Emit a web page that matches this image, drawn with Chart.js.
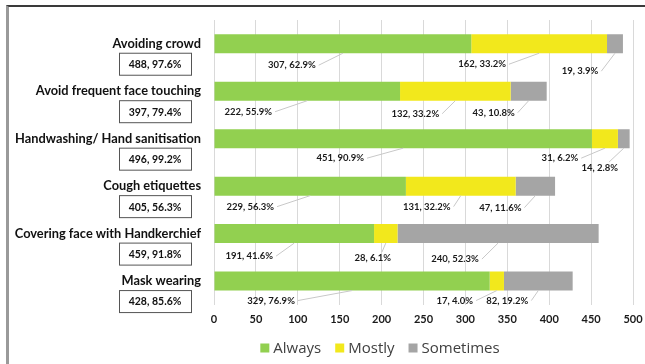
<!DOCTYPE html>
<html>
<head>
<meta charset="utf-8">
<script src="https://cdn.jsdelivr.net/npm/chart.js@4/dist/chart.umd.min.js"></script>
<style>
  html, body { margin: 0; padding: 0; background: #fff; }
  #wrap { position: relative; width: 645px; height: 364px; overflow: hidden; }
  #frame { position: absolute; left: 6px; top: 5px; width: 700px; height: 400px;
           border-top: 2px solid #3a3a3a; border-left: 3px solid #9a9a9a; }
  canvas { position: absolute; left: 0; top: 0; }
</style>
</head>
<body>
<div id="wrap">
  <div id="frame"></div>
  <canvas id="chart" width="645" height="364"></canvas>
</div>
<script>
// Preventive practices - stacked horizontal bars

const categories = [
  'Avoiding crowd',
  'Avoid frequent face touching',
  'Handwashing/ Hand sanitisation',
  'Cough etiquettes',
  'Covering face with Handkerchief',
  'Mask wearing'
];
const totals = ['488, 97.6%', '397, 79.4%', '496, 99.2%', '405, 56.3%', '459, 91.8%', '428, 85.6%'];

const always = [307, 222, 451, 229, 191, 329];
const mostly = [162, 132, 31, 131, 28, 17];
const sometimes = [19, 43, 14, 47, 240, 82];

const alwaysPct = ['62.9%', '55.9%', '90.9%', '56.3%', '41.6%', '76.9%'];
const mostlyPct = ['33.2%', '33.2%', '6.2%', '32.2%', '6.1%', '4.0%'];
const sometimesPct = ['3.9%', '10.8%', '2.8%', '11.6%', '52.3%', '19.2%'];

const xTicks = [0, 50, 100, 150, 200, 250, 300, 350, 400, 450, 500];

// label offsets (px) from the bottom centre of each segment: [dx, dy]
const labelOffsets = [
  [[-51, 12], [-57, 11], [-35, 18]],
  [[-59, 11], [-40, 13], [-35, 12]],
  [[-63, 10], [-45, 10], [-24, 20]],
  [[-60, 11], [-34, 11], [-35, 12]],
  [[-45, 13], [-13, 15], [-43, 16]],
  [[-81, 10], [-42, 10], [-31, 10]]
];

const colors = ['#92D050', '#F2E81C', '#A5A5A5'];
const labelFont = 'bold 9.5px Lato';

// Left side: category names and boxed totals
const sideLabels = {
  id: 'sideLabels',
  afterDraw(chart) {
    const ctx = chart.ctx;
    const yScale = chart.scales.y;
    ctx.save();
    categories.forEach((name, i) => {
      const y = yScale.getPixelForValue(i);
      ctx.fillStyle = '#111';
      ctx.font = 'bold 12.8px Lato';
      ctx.textAlign = 'right';
      ctx.textBaseline = 'middle';
      ctx.fillText(name, 201, y);

      const bx = 119, by = y + 9, bw = 72, bh = 22;
      ctx.strokeStyle = '#555';
      ctx.lineWidth = 1;
      ctx.strokeRect(bx + 0.5, by + 0.5, bw, bh);
      ctx.font = 'bold 10.5px Lato';
      ctx.textAlign = 'center';
      ctx.fillStyle = '#111';
      ctx.fillText(totals[i], bx + bw / 2, by + bh / 2 + 1);
    });
    ctx.restore();
  }
};

// Data labels with leader lines under each segment
const segLabels = {
  id: 'segLabels',
  afterDatasetsDraw(chart) {
    const ctx = chart.ctx;
    const pcts = [alwaysPct, mostlyPct, sometimesPct];
    ctx.save();
    ctx.font = labelFont;
    ctx.textBaseline = 'middle';
    ctx.textAlign = 'center';
    chart.data.datasets.forEach((ds, d) => {
      const meta = chart.getDatasetMeta(d);
      meta.data.forEach((bar, i) => {
        const p = bar.getProps(['x', 'y', 'base', 'height'], true);
        const cx = (p.x + p.base) / 2;
        const bottom = p.y + p.height / 2;
        const [dx, dy] = labelOffsets[i][d];
        const lx = cx + dx, ly = bottom + dy;
        const text = ds.data[i] + ', ' + pcts[d][i];
        const w = ctx.measureText(text).width;

        let sx = lx + w / 2 + 3, sy = ly;
        if (sx > cx - 4) { sx = lx + w / 4; sy = ly - 6; }
        ctx.strokeStyle = '#c8c8c8';
        ctx.lineWidth = 1;
        ctx.beginPath();
        ctx.moveTo(sx, sy);
        ctx.lineTo(cx, bottom);
        ctx.stroke();

        ctx.fillStyle = '#1a1a1a';
        ctx.fillText(text, lx, ly);
      });
    });
    ctx.restore();
  }
};

// Legend drawn under the axis
const bottomLegend = {
  id: 'bottomLegend',
  afterDraw(chart) {
    const ctx = chart.ctx;
    ctx.save();
    ctx.font = '15px "Open Sans"';
    ctx.textBaseline = 'middle';
    ctx.textAlign = 'left';
    const items = chart.data.datasets.map(ds => ({ label: ds.label, color: ds.backgroundColor }));
    const box = 9, gap = 4, spacing = 14;
    const widths = items.map(it => box + gap + ctx.measureText(it.label).width);
    const total = widths.reduce((a, b) => a + b, 0) + spacing * (items.length - 1);
    let x = 380 - total / 2;
    const y = 348;
    items.forEach((it, k) => {
      ctx.fillStyle = it.color;
      ctx.fillRect(x, y - box / 2, box, box);
      ctx.fillStyle = '#404040';
      ctx.fillText(it.label, x + box + gap, y + 1);
      x += widths[k] + spacing;
    });
    ctx.restore();
  }
};

new Chart(document.getElementById('chart'), {
  type: 'bar',
  data: {
    labels: categories,
    datasets: [
      { label: 'Always', data: always, backgroundColor: colors[0] },
      { label: 'Mostly', data: mostly, backgroundColor: colors[1] },
      { label: 'Sometimes', data: sometimes, backgroundColor: colors[2] }
    ]
  },
  options: {
    indexAxis: 'y',
    responsive: false,
    animation: false,
    datasets: { bar: { categoryPercentage: 0.4, barPercentage: 1.0 } },
    layout: { padding: { left: 214, right: 12, top: 20, bottom: 30 } },
    plugins: { legend: { display: false }, tooltip: { enabled: false } },
    scales: {
      x: {
        stacked: true,
        min: 0,
        max: 500,
        afterBuildTicks(axis) { axis.ticks = xTicks.map(v => ({ value: v })); },
        afterFit(axis) { axis.paddingLeft = 0; axis.paddingRight = 0; },
        grid: { color: '#d9d9d9', drawTicks: false },
        border: { display: false },
        ticks: { padding: 8, color: '#1a1a1a', font: { family: 'Lato', size: 11, weight: 'bold' } }
      },
      y: {
        stacked: true,
        display: false
      }
    }
  },
  plugins: [sideLabels, segLabels, bottomLegend]
});
</script>
</body>
</html>
